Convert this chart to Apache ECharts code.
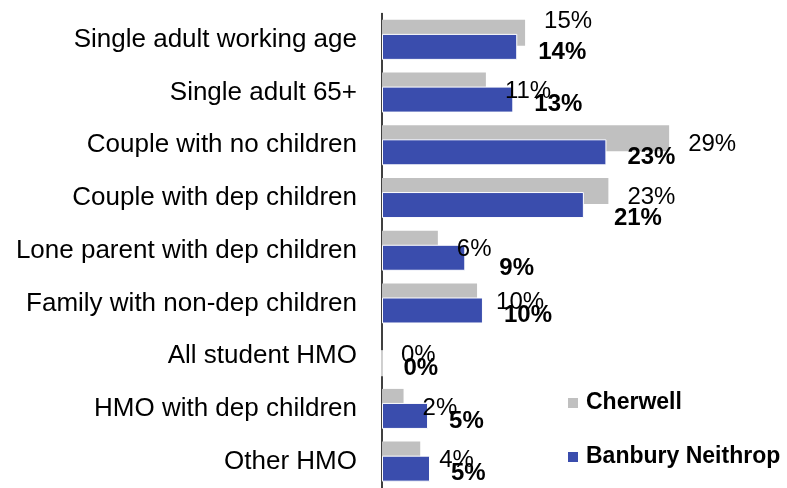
<!DOCTYPE html>
<html>
<head>
<meta charset="utf-8">
<script src="https://cdn.jsdelivr.net/npm/echarts@6/dist/echarts.min.js"></script>
<style>
    html, body { margin: 0; padding: 0; background: #fff; }
    #chart { width: 787px; height: 488px; }
</style>
</head>
<body>
<div id="chart"></div>
<script>
// 数据
const categories = [
    'Single adult working age',
    'Single adult 65+',
    'Couple with no children',
    'Couple with dep children',
    'Lone parent with dep children',
    'Family with non-dep children',
    'All student HMO',
    'HMO with dep children',
    'Other HMO'
];
const cherwell = [14.6, 10.6, 29.3, 23.1, 5.7, 9.7, 0, 2.2, 3.9];
const banbury = [13.8, 13.4, 22.9, 20.6, 8.5, 10.3, 0, 4.7, 4.9];

const FONT = '"Liberation Sans", Arial, sans-serif';

// a few labels were moved by hand in the original
function withNudges(values, nudges) {
    return values.map((v, i) => {
        if (!nudges[i]) return v;
        return { value: v, label: { offset: nudges[i] } };
    });
}

const chart = echarts.init(document.getElementById('chart'));

chart.setOption({
    animation: false,
    textStyle: { fontFamily: FONT },
    grid: {
        left: 382,
        top: 13.5,
        width: 392,
        height: 478
    },
    legend: {
        orient: 'vertical',
        left: 563,
        top: 386,
        itemWidth: 10,
        itemHeight: 10,
        itemGap: 30,
        icon: 'rect',
        itemStyle: { borderWidth: 0 },
        textStyle: {
            fontFamily: FONT,
            fontSize: 23,
            fontWeight: 'bold',
            color: '#000',
            lineHeight: 24,
            padding: [0, 0, 0, 3]
        },
        data: ['Cherwell', 'Banbury Neithrop']
    },
    xAxis: {
        type: 'value',
        min: 0,
        max: 40,
        show: false
    },
    yAxis: {
        type: 'category',
        inverse: true,
        data: categories,
        axisLine: { show: true, lineStyle: { color: '#000', width: 1.5 } },
        axisTick: { show: false },
        axisLabel: {
            margin: 25,
            fontFamily: FONT,
            fontSize: 26,
            color: '#000'
        }
    },
    series: [
        {
            name: 'Cherwell',
            type: 'bar',
            data: withNudges(cherwell, { 0: [0, -11] }),
            barWidth: 26,
            barGap: '-46%',
            itemStyle: { color: '#C0C0C0' },
            label: {
                show: true,
                position: 'right',
                distance: 19,
                offset: [0, 6],
                fontFamily: FONT,
                fontSize: 24,
                color: '#000',
                formatter: p => Math.round(p.value) + '%'
            }
        },
        {
            name: 'Banbury Neithrop',
            type: 'bar',
            data: withNudges(banbury, { 3: [9, 13], 4: [13, 11] }),
            barWidth: 26,
            itemStyle: { color: '#3A4DAD', borderColor: '#fff', borderWidth: 1 },
            label: {
                show: true,
                position: 'right',
                distance: 21,
                offset: [0, 5],
                fontFamily: FONT,
                fontSize: 24,
                fontWeight: 'bold',
                color: '#000',
                formatter: p => Math.round(p.value) + '%'
            }
        }
    ]
});
</script>
</body>
</html>
